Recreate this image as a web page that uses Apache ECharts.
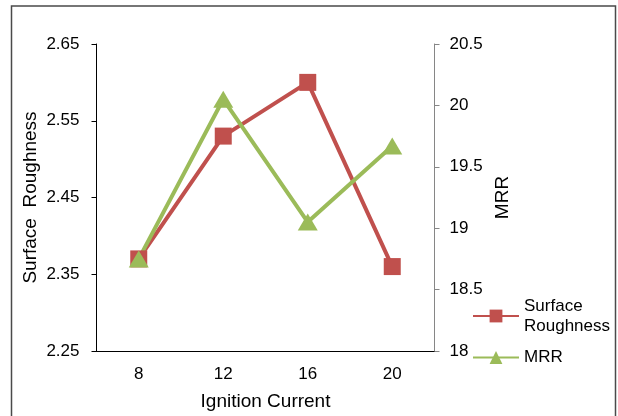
<!DOCTYPE html>
<html>
<head>
  <meta charset="utf-8">
  <title>Surface Roughness / MRR</title>
  <script src="https://cdn.jsdelivr.net/npm/echarts@6/dist/echarts.min.js"></script>
  <style>
    html, body { margin: 0; padding: 0; background: #fff; }
    #chart { width: 618px; height: 416px; }
  </style>
</head>
<body>
  <div id="chart"></div>
  <script>
    // 数据
    let currents = ['8', '12', '16', '20'];
    let roughness = [2.37, 2.53, 2.60, 2.36];
    let mrr = [18.75, 20.05, 19.05, 19.67];

    let myChart = echarts.init(document.getElementById('chart'));
    let font = 'Liberation Sans, Arial, sans-serif';

    let option = {
      backgroundColor: '#fff',
      animation: false,
      graphic: [{
        type: 'rect',
        shape: { x: 11.5, y: 6, width: 604, height: 430 },
        style: { fill: 'none', stroke: '#4a4a4a', lineWidth: 1.5 },
        silent: true
      }],
      grid: { left: 96.5, right: 183.5, top: 44, bottom: 62 },
      legend: [
        {
          data: ['Surface Roughness'],
          left: 472, top: 286,
          padding: 0,
          itemWidth: 46, itemHeight: 16,
          formatter: function() { return 'Surface\nRoughness'; },
          textStyle: { fontFamily: font, fontSize: 17, color: '#000', lineHeight: 20, padding: [20, 0, 0, 0] }
        },
        {
          data: ['MRR'],
          left: 472, top: 349,
          padding: 0,
          itemWidth: 46, itemHeight: 16,
          textStyle: { fontFamily: font, fontSize: 17, color: '#000' }
        }
      ],
      xAxis: {
        type: 'category',
        data: currents,
        boundaryGap: true,
        name: 'Ignition Current',
        nameLocation: 'middle',
        nameGap: 41,
        nameTextStyle: { fontFamily: font, fontSize: 19, color: '#000' },
        axisLine: { lineStyle: { color: '#000', width: 1 } },
        axisTick: { alignWithLabel: true, length: 5, lineStyle: { color: '#000' } },
        axisLabel: { fontFamily: font, fontSize: 17, color: '#000', margin: 15 }
      },
      yAxis: [
        {
          type: 'value',
          min: 2.25, max: 2.65, interval: 0.1,
          name: 'Surface  Roughness',
          nameLocation: 'middle',
          nameRotate: 90,
          nameGap: 56,
          nameMoveOverlap: false,
          nameTextStyle: { fontFamily: font, fontSize: 19, color: '#000' },
          axisLine: { show: true, lineStyle: { color: '#000', width: 1 } },
          axisTick: { show: true, length: 5, lineStyle: { color: '#000' } },
          splitLine: { show: false },
          axisLabel: {
            fontFamily: font, fontSize: 17, color: '#000', margin: 17,
            formatter: function(v) { return v.toFixed(2); }
          }
        },
        {
          type: 'value',
          position: 'right',
          min: 18, max: 20.5, interval: 0.5,
          name: 'MRR',
          nameLocation: 'middle',
          nameRotate: 90,
          nameGap: 58,
          nameTextStyle: { fontFamily: font, fontSize: 19, color: '#000' },
          axisLine: { show: true, lineStyle: { color: '#868686', width: 1 } },
          axisTick: { show: true, length: 5, lineStyle: { color: '#868686' } },
          splitLine: { show: false },
          axisLabel: { fontFamily: font, fontSize: 17, color: '#000', margin: 15 }
        }
      ],
      series: [
        {
          name: 'Surface Roughness',
          type: 'line',
          yAxisIndex: 0,
          data: roughness,
          symbol: 'rect',
          symbolSize: 17,
          lineStyle: { color: '#C0504D', width: 4 },
          itemStyle: { color: '#C0504D' }
        },
        {
          name: 'MRR',
          type: 'line',
          yAxisIndex: 1,
          data: mrr,
          symbol: 'triangle',
          symbolSize: [20, 17],
          lineStyle: { color: '#9BBB59', width: 4 },
          itemStyle: { color: '#9BBB59' }
        }
      ]
    };
    myChart.setOption(option);
  </script>
</body>
</html>
